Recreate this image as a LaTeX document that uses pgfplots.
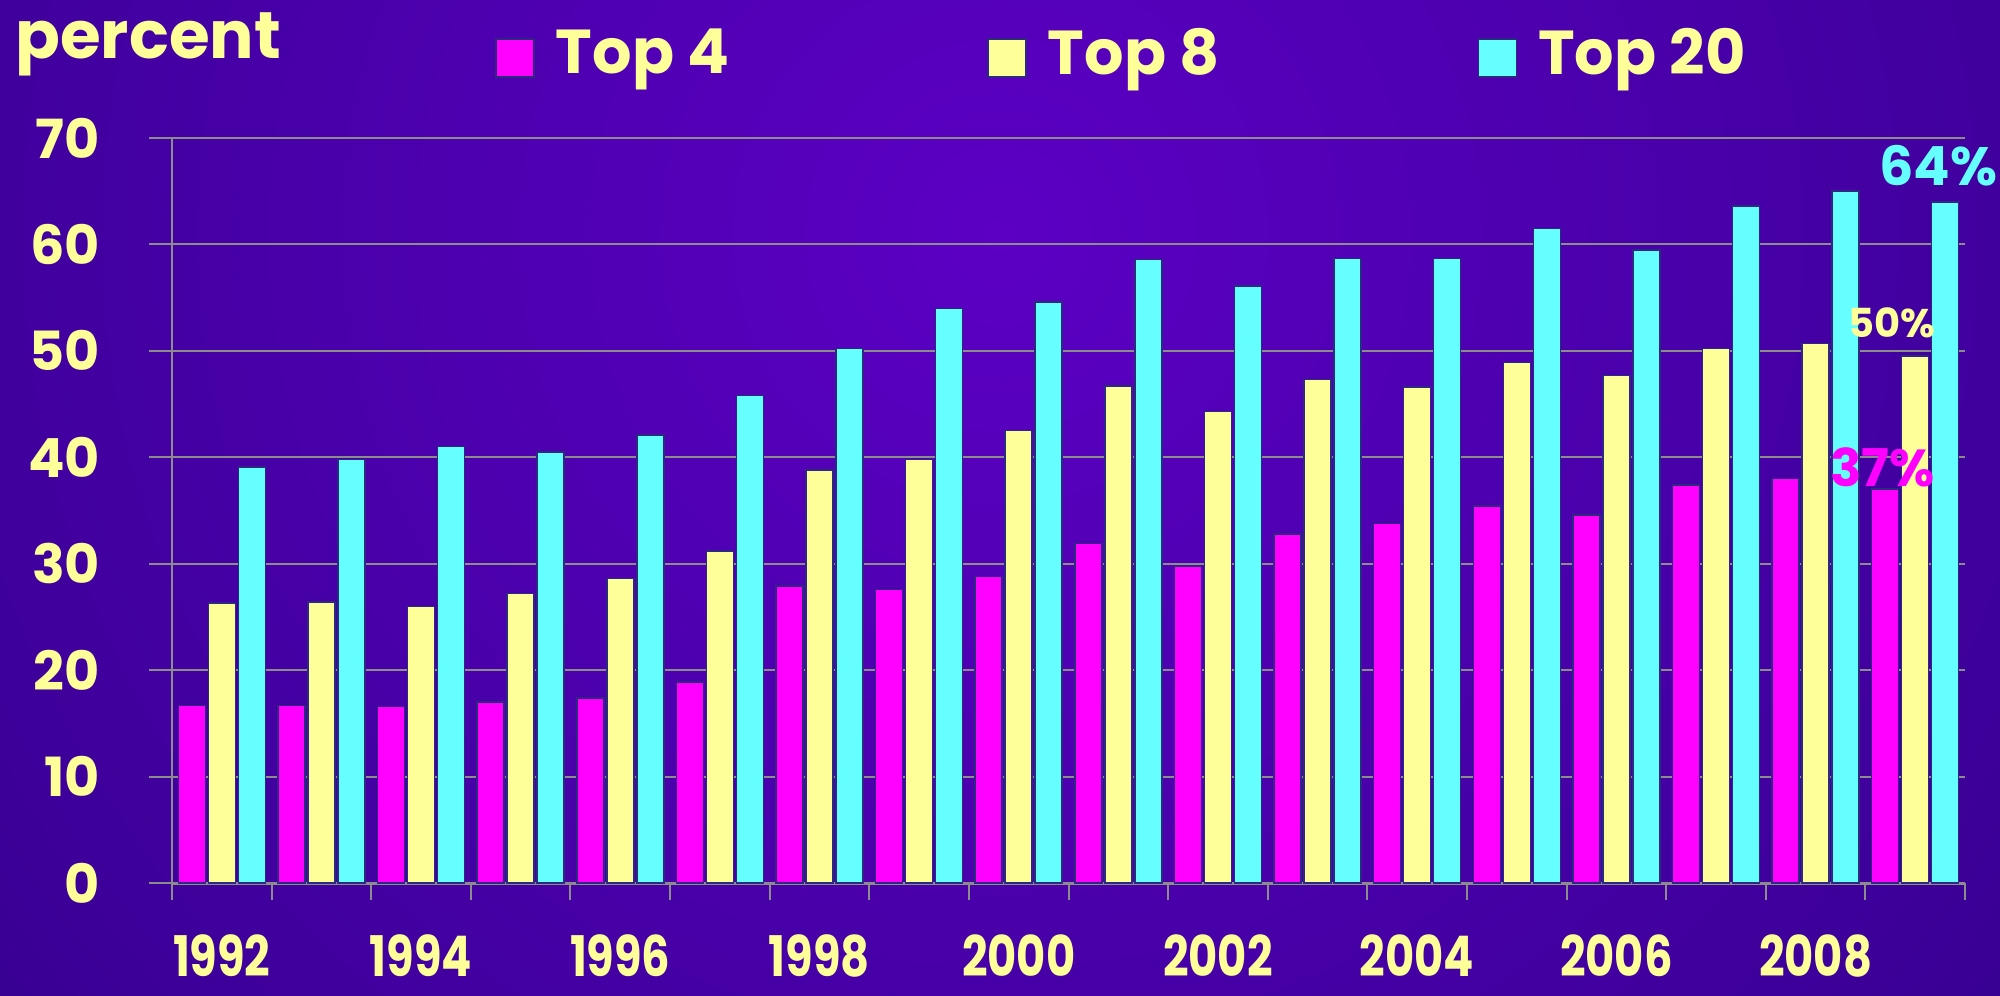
\documentclass[border=0pt]{standalone}
\usepackage{fontspec}
\setmainfont{Poppins}
\newfontfamily\narrow{Poppins}[FakeStretch=0.8]
\usepackage{pgfplots}
\pgfplotsset{compat=1.18}
\usepackage{pgfplotstable}
\definecolor{bgin}{RGB}{92,0,196}
\definecolor{bgout}{RGB}{22,0,100}
\definecolor{ylw}{RGB}{255,255,153}
\definecolor{mag}{RGB}{255,0,255}
\definecolor{cyn}{RGB}{102,255,255}
\definecolor{gridc}{RGB}{140,140,140}
\definecolor{edge}{RGB}{45,40,130}
\pgfplotstableread{
x year t4 t8 t20
0 1992 16.7 26.3 39.1
1 1993 16.7 26.4 39.8
2 1994 16.6 26.0 41.0
3 1995 17.0 27.2 40.5
4 1996 17.4 28.6 42.1
5 1997 18.9 31.2 45.8
6 1998 27.9 38.8 50.2
7 1999 27.6 39.8 54.0
8 2000 28.8 42.5 54.6
9 2001 31.9 46.7 58.6
10 2002 29.8 44.3 56.1
11 2003 32.8 47.3 58.7
12 2004 33.8 46.6 58.7
13 2005 35.4 48.9 61.5
14 2006 34.6 47.7 59.5
15 2007 37.4 50.2 63.6
16 2008 38.0 50.7 65.0
17 2009 37.0 49.5 64.0
}\data
\begin{document}
\begin{tikzpicture}
\begin{scope}
\clip (0,0) rectangle (1000pt,497.5pt);
\shade[inner color=bgin, outer color=bgout] (500pt,380pt) circle (1250pt);
\end{scope}
\node[anchor=base west, inner sep=0pt, text=ylw, font=\fontsize{33}{33}\selectfont\bfseries] at (7.5pt,468pt) {percent};
\begin{axis}[at={(86pt,56pt)}, anchor=south west, scale only axis,
  width=896.5pt, height=372.5pt,
  clip=false,
  ybar=1.5pt, bar width=13.5pt,
  xmin=-0.5, xmax=17.5, ymin=0, ymax=70,
  axis lines*=left,
  axis line style={gridc},
  x axis line style={line width=1.5pt},
  y axis line style={line width=0.6pt},
  tick align=outside,
  major tick length=11.5pt, minor tick length=8.5pt,
  tick style={gridc, line width=1pt},
  xtick={0,2,...,16},
  xticklabels={1992,1994,1996,1998,2000,2002,2004,2006,2008},
  minor xtick={-0.5,0.5,...,17.5},
  major x tick style={draw=none},
  ytick={0,10,...,70},
  /pgf/number format/assume math mode=true,
  ymajorgrids, major grid style={gridc, line width=1pt},
  xticklabel style={font=\narrow\fontsize{28}{28}\selectfont\bfseries, text=ylw, inner sep=0pt, yshift=-14pt},
  yticklabel style={font=\fontsize{27}{27}\selectfont\bfseries, text=ylw, xshift=-21pt},
  legend style={at={(0.180,1.114)}, anchor=west, draw=none, fill=none,
    legend columns=3, inner sep=0pt,
    font=\fontsize{31}{31}\selectfont\bfseries, text=ylw,
    /tikz/every even column/.append style={column sep=127pt}},
  legend image code/.code={\fill[#1] (0pt,-12pt) rectangle (19pt,7pt); \path[draw=none, fill=none] (0pt,0pt) -- (28pt,0pt);},
]
\addplot[fill=mag, draw=edge, line width=0.75pt] table[x=x, y=t4]{\data};
\addplot[fill=ylw, draw=edge, line width=0.75pt] table[x=x, y=t8]{\data};
\addplot[fill=cyn, draw=edge, line width=0.75pt] table[x=x, y=t20]{\data};
\legend{Top 4, Top 8, Top 20}
\node[text=cyn, font=\fontsize{27}{27}\selectfont\bfseries] at (axis cs:17.23,67.4) {64\%};
\node[text=ylw, font=\fontsize{20}{20}\selectfont\bfseries] at (axis cs:16.77,52.6) {50\%};
\node[text=mag, font=\fontsize{26}{26}\selectfont\bfseries] at (axis cs:16.67,39.1) {37\%};
\end{axis}
\pgfresetboundingbox
\path (0,0) rectangle (1000pt,497.5pt);
\end{tikzpicture}
\end{document}
